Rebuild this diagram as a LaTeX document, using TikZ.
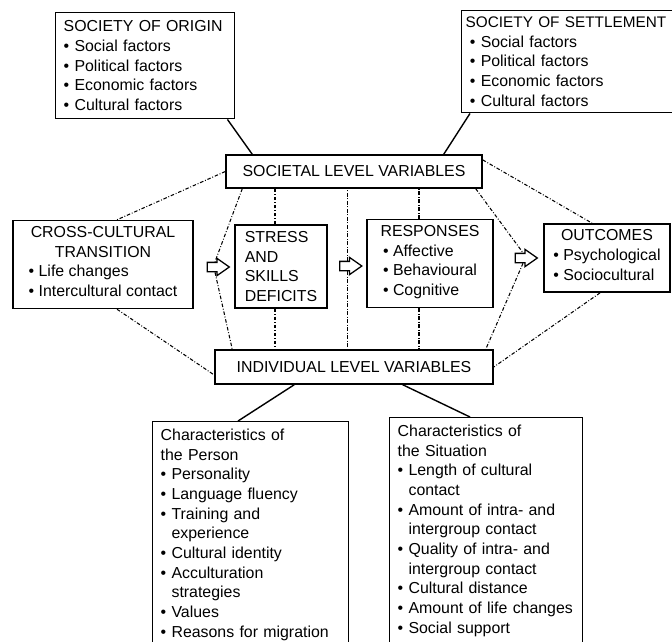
\documentclass[tikz,border=0pt]{standalone}
\usepackage{fontspec}
\setmainfont{Liberation Sans}
\usetikzlibrary{shapes.arrows,positioning}
\newcommand\itm{\textbullet\ }
\newcommand\indt{\hphantom{\textbullet\ }}

\begin{document}
\begin{tikzpicture}[x=0.025cm,y=-0.025cm,
  every node/.style={font=\fontsize{11.3}{14}\selectfont},
  box/.style={draw,line width=1pt,inner xsep=0.2cm,inner ysep=0.15cm},
  link/.style={line width=1pt},
  dashline/.style={line width=.75pt,dash pattern=on 2.5pt off 1.3pt on .6pt off 1.3pt},
  blockarrow/.style={draw,line width=.9pt,single arrow,inner sep=0.1cm,single arrow head extend=0.1cm,
    minimum height=0.55cm,single arrow tip angle=70}]
\useasboundingbox (0,0) rectangle (672,641);
% top row
\node[box,anchor=north west,text width=4.075cm,minimum height=2.65cm,align=left] (origin) at (55,12)
  {SOCIETY OF ORIGIN\\\itm Social factors\\\itm Political factors\\\itm Economic factors\\\itm Cultural factors};
\node[box,anchor=north west,inner xsep=0.1cm,text width=5.6cm,minimum height=2.55cm,align=left] (settle) at (461,10)
  {{\fontsize{10.9}{14}\selectfont SOCIETY OF SETTLEMENT}\\\hspace*{3pt}\itm Social factors\\\hspace*{3pt}\itm Political factors\\
   \hspace*{3pt}\itm Economic factors\\\hspace*{3pt}\itm Cultural factors};
\node[box,minimum width=6.4cm,minimum height=0.825cm] (soc) at (354,171.5) {SOCIETAL LEVEL VARIABLES};
% middle row
\node[box,minimum width=4.5cm,minimum height=2.125cm,align=center] (cct) at (103,264.5)
  {CROSS-CULTURAL\\TRANSITION\\\begin{tabular}[t]{@{}l@{}}\itm Life changes\\\itm Intercultural contact\end{tabular}};
\node[box,minimum width=2.3cm,minimum height=2.075cm,align=left] (stress) at (281,266.5)
  {STRESS\\AND\\SKILLS\\DEFICITS};
\node[box,minimum width=3.15cm,minimum height=2.125cm,align=center] (resp) at (430,263.5)
  {RESPONSES\\\begin{tabular}[t]{@{}l@{}}\itm Affective\\\itm Behavioural\\\itm Cognitive\end{tabular}};
\node[box,minimum width=3.15cm,minimum height=1.6cm,align=center] (outc) at (607,258)
  {OUTCOMES\\\begin{tabular}[t]{@{}l@{}}\itm Psychological\\\itm Sociocultural\end{tabular}};
\node[blockarrow] (a1) at (215,267) {};
\node[blockarrow] (a2) at (347.5,266) {};
\node[blockarrow] (a3) at (523,258) {};
% bottom row
\node[box,minimum width=6.95cm,minimum height=0.85cm] (ind) at (354,367) {INDIVIDUAL LEVEL VARIABLES};
\node[box,anchor=north west,inner ysep=0.18cm,text width=4.5cm,align=left] (person) at (152,421)
  {Characteristics of\\the Person\\\itm Personality\\\itm Language fluency\\\itm Training and\\\indt experience\\
   \itm Cultural identity\\\itm Acculturation\\\indt strategies\\\itm Values\\\itm Reasons for migration\\[2pt]};
\node[box,anchor=north west,inner ysep=0.18cm,text width=4.425cm,align=left] (situ) at (389,417)
  {Characteristics of\\the Situation\\\itm Length of cultural\\\indt contact\\\itm Amount of intra- and\\
   \indt intergroup contact\\\itm Quality of intra- and\\\indt intergroup contact\\\itm Cultural distance\\
   \itm Amount of life changes\\\itm Social support\\[2pt]};
% solid links
\draw[link] ([xshift=-0.2cm]origin.south east) -- ([xshift=0.675cm]soc.north west);
\draw[link] ([xshift=0.225cm]settle.south west) -- ([xshift=-0.975cm]soc.north east);
\draw[link] ([xshift=2cm]ind.south west) -- ([xshift=2.15cm]person.north west);
\draw[link] ([xshift=-2.275cm]ind.south east) -- ([xshift=2.025cm]situ.north west);
% dash-dot links
\draw[dashline] (soc.west) -- ([xshift=0.35cm]cct.north);
\draw[dashline] ([xshift=0.35cm]cct.south) -- ([yshift=-0.2cm]ind.west);
\draw[dashline] ([xshift=0.425cm]soc.south west) -- (a1.north);
\draw[dashline] (a1.south) -- ([xshift=0.45cm]ind.north west);
\draw[dashline] ([xshift=-0.15cm]stress.north) -- ([xshift=-0.15cm]stress.north |- soc.south);
\draw[dashline] ([xshift=-0.15cm]stress.south) -- ([xshift=-0.15cm]stress.south |- ind.north);
\draw[dashline] (a2.north) -- (a2.north |- soc.south);
\draw[dashline] (a2.south) -- (a2.south |- ind.north);
\draw[dashline] ([xshift=-0.275cm]resp.north) -- ([xshift=-0.275cm]resp.north |- soc.south);
\draw[dashline] ([xshift=-0.275cm]resp.south) -- ([xshift=-0.275cm]resp.south |- ind.north);
\draw[dashline] ([xshift=-0.175cm]soc.south east) -- (a3.north);
\draw[dashline] (a3.south) -- ([xshift=-0.2cm]ind.north east);
\draw[dashline] ([yshift=0.29cm]soc.east) -- ([xshift=-0.375cm]outc.north);
\draw[dashline] ([xshift=-0.175cm]outc.south) -- (ind.east);
\end{tikzpicture}
\end{document}
